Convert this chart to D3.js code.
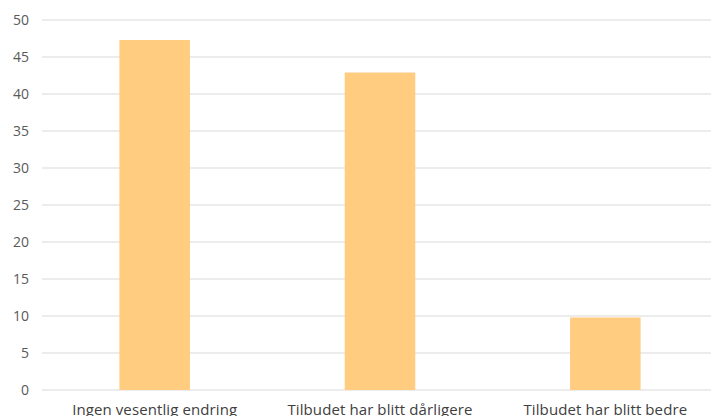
<!DOCTYPE html>
<html>
<head>
<meta charset="utf-8">
<script src="https://cdn.jsdelivr.net/npm/d3@7"></script>
<style>
  html, body { margin: 0; padding: 0; background: #fff; }
  svg { display: block; }
</style>
</head>
<body>
<svg id="chart" width="711" height="416"></svg>
<script>
const categories = ["Ingen vesentlig endring", "Tilbudet har blitt dårligere", "Tilbudet har blitt bedre"];
const values = [47.3, 42.9, 9.8];
const yTicks = [0, 5, 10, 15, 20, 25, 30, 35, 40, 45, 50];

const width = 711, height = 416;
const margin = { top: 20, bottom: 26, left: 42 };
const plotRight = 718; // plot area runs slightly past the right edge of the view
const font = "'Open Sans', 'Noto Sans', sans-serif";

const svg = d3.select("#chart");

const x = d3.scaleBand()
  .domain(categories)
  .range([margin.left, plotRight])
  .paddingInner(0.687)
  .paddingOuter(0.3435);

const y = d3.scaleLinear()
  .domain([0, 50])
  .range([height - margin.bottom, margin.top]);

// horizontal gridlines
svg.append("g")
  .selectAll("line")
  .data(yTicks)
  .join("line")
  .attr("x1", margin.left)
  .attr("x2", plotRight)
  .attr("y1", d => y(d))
  .attr("y2", d => y(d))
  .attr("stroke", "#d9d9d9")
  .attr("stroke-width", 1.2);

// y tick labels
svg.append("g")
  .selectAll("text")
  .data(yTicks)
  .join("text")
  .attr("x", 29)
  .attr("y", d => y(d))
  .attr("dy", "0.36em")
  .attr("text-anchor", "end")
  .attr("font-family", font)
  .attr("font-size", 14)
  .attr("fill", "#595959")
  .text(d => d);

// bars
svg.append("g")
  .selectAll("rect")
  .data(values)
  .join("rect")
  .attr("x", (d, i) => x(categories[i]))
  .attr("width", x.bandwidth())
  .attr("y", d => y(d))
  .attr("height", d => y(0) - y(d))
  .attr("fill", "#ffcc80");

// category labels
svg.append("g")
  .selectAll("text")
  .data(categories)
  .join("text")
  .attr("x", d => x(d) + x.bandwidth() / 2)
  .attr("y", height - 1)
  .attr("text-anchor", "middle")
  .attr("font-family", font)
  .attr("font-size", 15)
  .attr("letter-spacing", 0.1)
  .attr("fill", "#404040")
  .text(d => d);
</script>
</body>
</html>
